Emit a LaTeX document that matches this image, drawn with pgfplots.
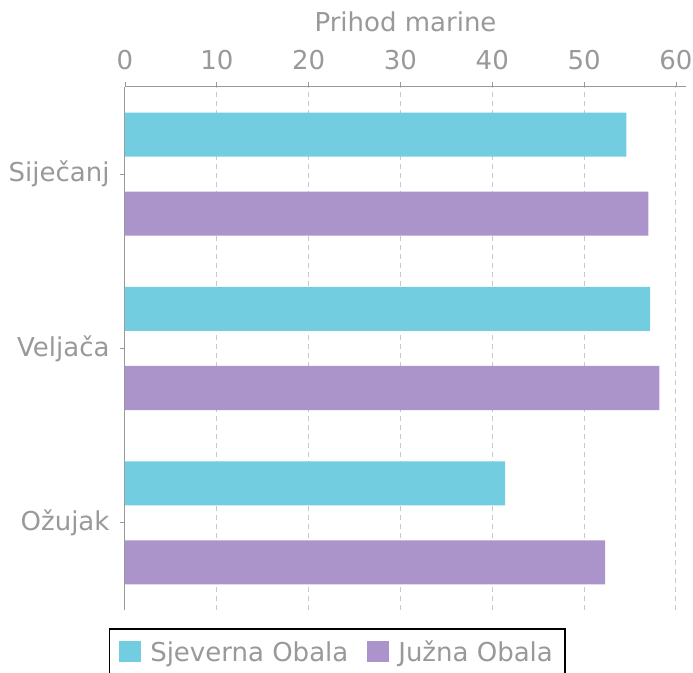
\documentclass[border=0pt]{standalone}
\usepackage{pgfplots}
\pgfplotsset{compat=1.18}
\usepackage{fontspec}
\setmainfont{DejaVu Sans}
\definecolor{cyanbar}{HTML}{72CDE0}
\definecolor{purplebar}{HTML}{AB94C9}
\definecolor{txt}{HTML}{999999}
\definecolor{gridc}{HTML}{C8C8C8}
\newcommand{\fs}{\fontsize{26}{30}\selectfont}
\begin{document}
\begin{tikzpicture}
\begin{axis}[
  scale only axis, width=561pt, height=523pt,
  xmin=0, xmax=61.1, ymin=-0.5, ymax=2.5,
  axis x line*=top, axis y line*=left,
  x axis line style={-}, y axis line style={-},
  axis line style={color=txt, line width=1pt},
  xtick={0,10,20,30,40,50,60},
  ytick={0,1,2}, yticklabels={Ožujak,Veljača,Siječanj},
  tick align=outside, major tick length=5pt,
  tick style={color=txt, line width=0.8pt},
  xticklabel shift=9pt, yticklabel shift=7pt,
  xlabel shift=11pt,
  xmajorgrids,
  grid style={color=gridc, line width=1pt, dash pattern=on 5pt off 4pt},
  /pgf/number format/assume math mode=true,
  tick label style={font=\fs, text=txt},
  label style={font=\fs, text=txt},
  xlabel={Prihod marine},
  legend style={at={(0.378,0)}, anchor=north, yshift=-18pt, draw=black, line width=1.5pt,
    font=\fs, text=txt, legend columns=2, inner xsep=10pt, inner ysep=10pt,
    /tikz/every odd column/.append style={column sep=7pt},
    /tikz/every even column/.append style={column sep=17pt}},
]
\addplot[xbar, bar width=44pt, bar shift=39.5pt, fill=cyanbar, draw=none,
  legend image code/.code={\fill[cyanbar] (0pt,-10.5pt) rectangle (22pt,10.5pt);}]
  coordinates {(54.6,2) (57.2,1) (41.4,0)};
\addplot[xbar, bar width=44pt, bar shift=-39.5pt, fill=purplebar, draw=none,
  legend image code/.code={\fill[purplebar] (0pt,-10.5pt) rectangle (22pt,10.5pt);}]
  coordinates {(57.0,2) (58.2,1) (52.3,0)};
\legend{Sjeverna Obala, Južna Obala}
\coordinate (tl) at (rel axis cs:0,1);
\end{axis}
\pgfresetboundingbox
\path (tl) ++(-125pt,87pt) rectangle ++(693pt,-672pt);
\end{tikzpicture}
\end{document}
